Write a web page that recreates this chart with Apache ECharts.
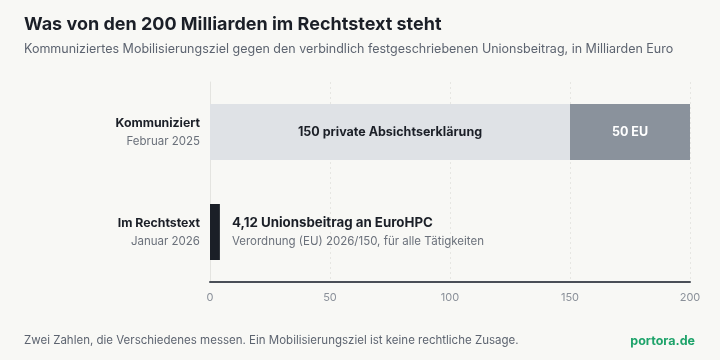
<!DOCTYPE html>
<html>
<head>
<meta charset="utf-8">
<script src="https://cdn.jsdelivr.net/npm/echarts@6/dist/echarts.min.js"></script>
<style>
  html, body { margin: 0; padding: 0; background: #f8f8f5; }
  #chart { width: 720px; height: 360px; }
</style>
</head>
<body>
<div id="chart"></div>
<script>
var categories = ['Kommuniziert', 'Im Rechtstext'];
var dates = ['Februar 2025', 'Januar 2026'];
var privateValues = [150, '-'];
var euValues = [50, '-'];
var legalValues = ['-', 4.12];
var xTicks = [0, 50, 100, 150, 200];

var font = 'Inter, "Noto Sans", sans-serif';
var myChart = echarts.init(document.getElementById('chart'));

var option = {
    backgroundColor: '#f8f8f5',
    textStyle: { fontFamily: font },
    title: [{
        text: 'Was von den 200 Milliarden im Rechtstext steht',
        left: 19,
        top: 11,
        textStyle: { fontSize: 18, fontWeight: 'bold', color: '#1b1f27', fontFamily: font }
    }, {
        text: 'Kommuniziertes Mobilisierungsziel gegen den verbindlich festgeschriebenen Unionsbeitrag, in Milliarden Euro',
        left: 19,
        top: 38,
        textStyle: { fontSize: 12.5, fontWeight: 'normal', color: '#5d6470', fontFamily: font }
    }, {
        text: 'Zwei Zahlen, die Verschiedenes messen. Ein Mobilisierungsziel ist keine rechtliche Zusage.',
        left: 19,
        top: 330,
        textStyle: { fontSize: 11.5, fontWeight: 'normal', color: '#5d6470', fontFamily: font }
    }, {
        text: 'portora.de',
        right: 20,
        top: 330,
        textStyle: { fontSize: 12.5, fontWeight: 'bold', color: '#1ea36a', fontFamily: font }
    }],
    grid: { left: 210, right: 30, top: 82, bottom: 78 },
    xAxis: {
        type: 'value',
        min: 0,
        max: 200,
        interval: 50,
        axisLine: { show: true, lineStyle: { color: '#4a4f57', width: 2 } },
        axisTick: { show: false },
        axisLabel: {
            color: '#8a9099', fontSize: 11, margin: 10,
            formatter: function (v) { return xTicks.indexOf(v) >= 0 ? String(v) : ''; }
        },
        splitLine: { show: true, lineStyle: { color: '#e6e6e2', type: [2, 3], width: 1 } }
    },
    yAxis: {
        type: 'category',
        inverse: true,
        data: categories,
        axisLine: { show: true, lineStyle: { color: '#e4e4e0', width: 1 } },
        axisTick: { show: false },
        axisLabel: {
            margin: 10,
            align: 'right',
            formatter: function (v, i) { return '{a|' + v + '}\n{b|' + dates[i] + '}'; },
            rich: {
                a: { fontSize: 12.3, fontWeight: 'bold', color: '#1b1f27', lineHeight: 20, align: 'right', fontFamily: font },
                b: { fontSize: 11.5, color: '#6b717b', lineHeight: 18, align: 'right', fontFamily: font }
            }
        }
    },
    series: [{
        name: 'privat',
        type: 'bar',
        stack: 'total',
        barWidth: 56,
        data: privateValues,
        itemStyle: { color: '#dfe2e6' },
        label: {
            show: true, position: 'inside',
            formatter: '{c} private Absichtserklärung',
            color: '#1b1f27', fontSize: 12.5, fontWeight: 'bold', fontFamily: font
        }
    }, {
        name: 'EU',
        type: 'bar',
        stack: 'total',
        barWidth: 56,
        data: euValues,
        itemStyle: { color: '#8a929c' },
        label: {
            show: true, position: 'inside',
            formatter: '{c} EU',
            color: '#ffffff', fontSize: 12.5, fontWeight: 'bold', fontFamily: font
        }
    }, {
        name: 'Rechtstext',
        type: 'bar',
        stack: 'total',
        barWidth: 56,
        data: legalValues,
        itemStyle: { color: '#1b1f27' },
        label: {
            show: true, position: 'right', distance: 12,
            formatter: function (p) {
                return '{a|' + String(p.value).replace('.', ',') + ' Unionsbeitrag an EuroHPC}\n{b|Verordnung (EU) 2026/150, für alle Tätigkeiten}';
            },
            rich: {
                a: { fontSize: 13.3, fontWeight: 'bold', color: '#1b1f27', lineHeight: 20, fontFamily: font },
                b: { fontSize: 11.5, color: '#6b717b', lineHeight: 18, fontFamily: font }
            }
        }
    }]
};
myChart.setOption(option);
</script>
</body>
</html>
